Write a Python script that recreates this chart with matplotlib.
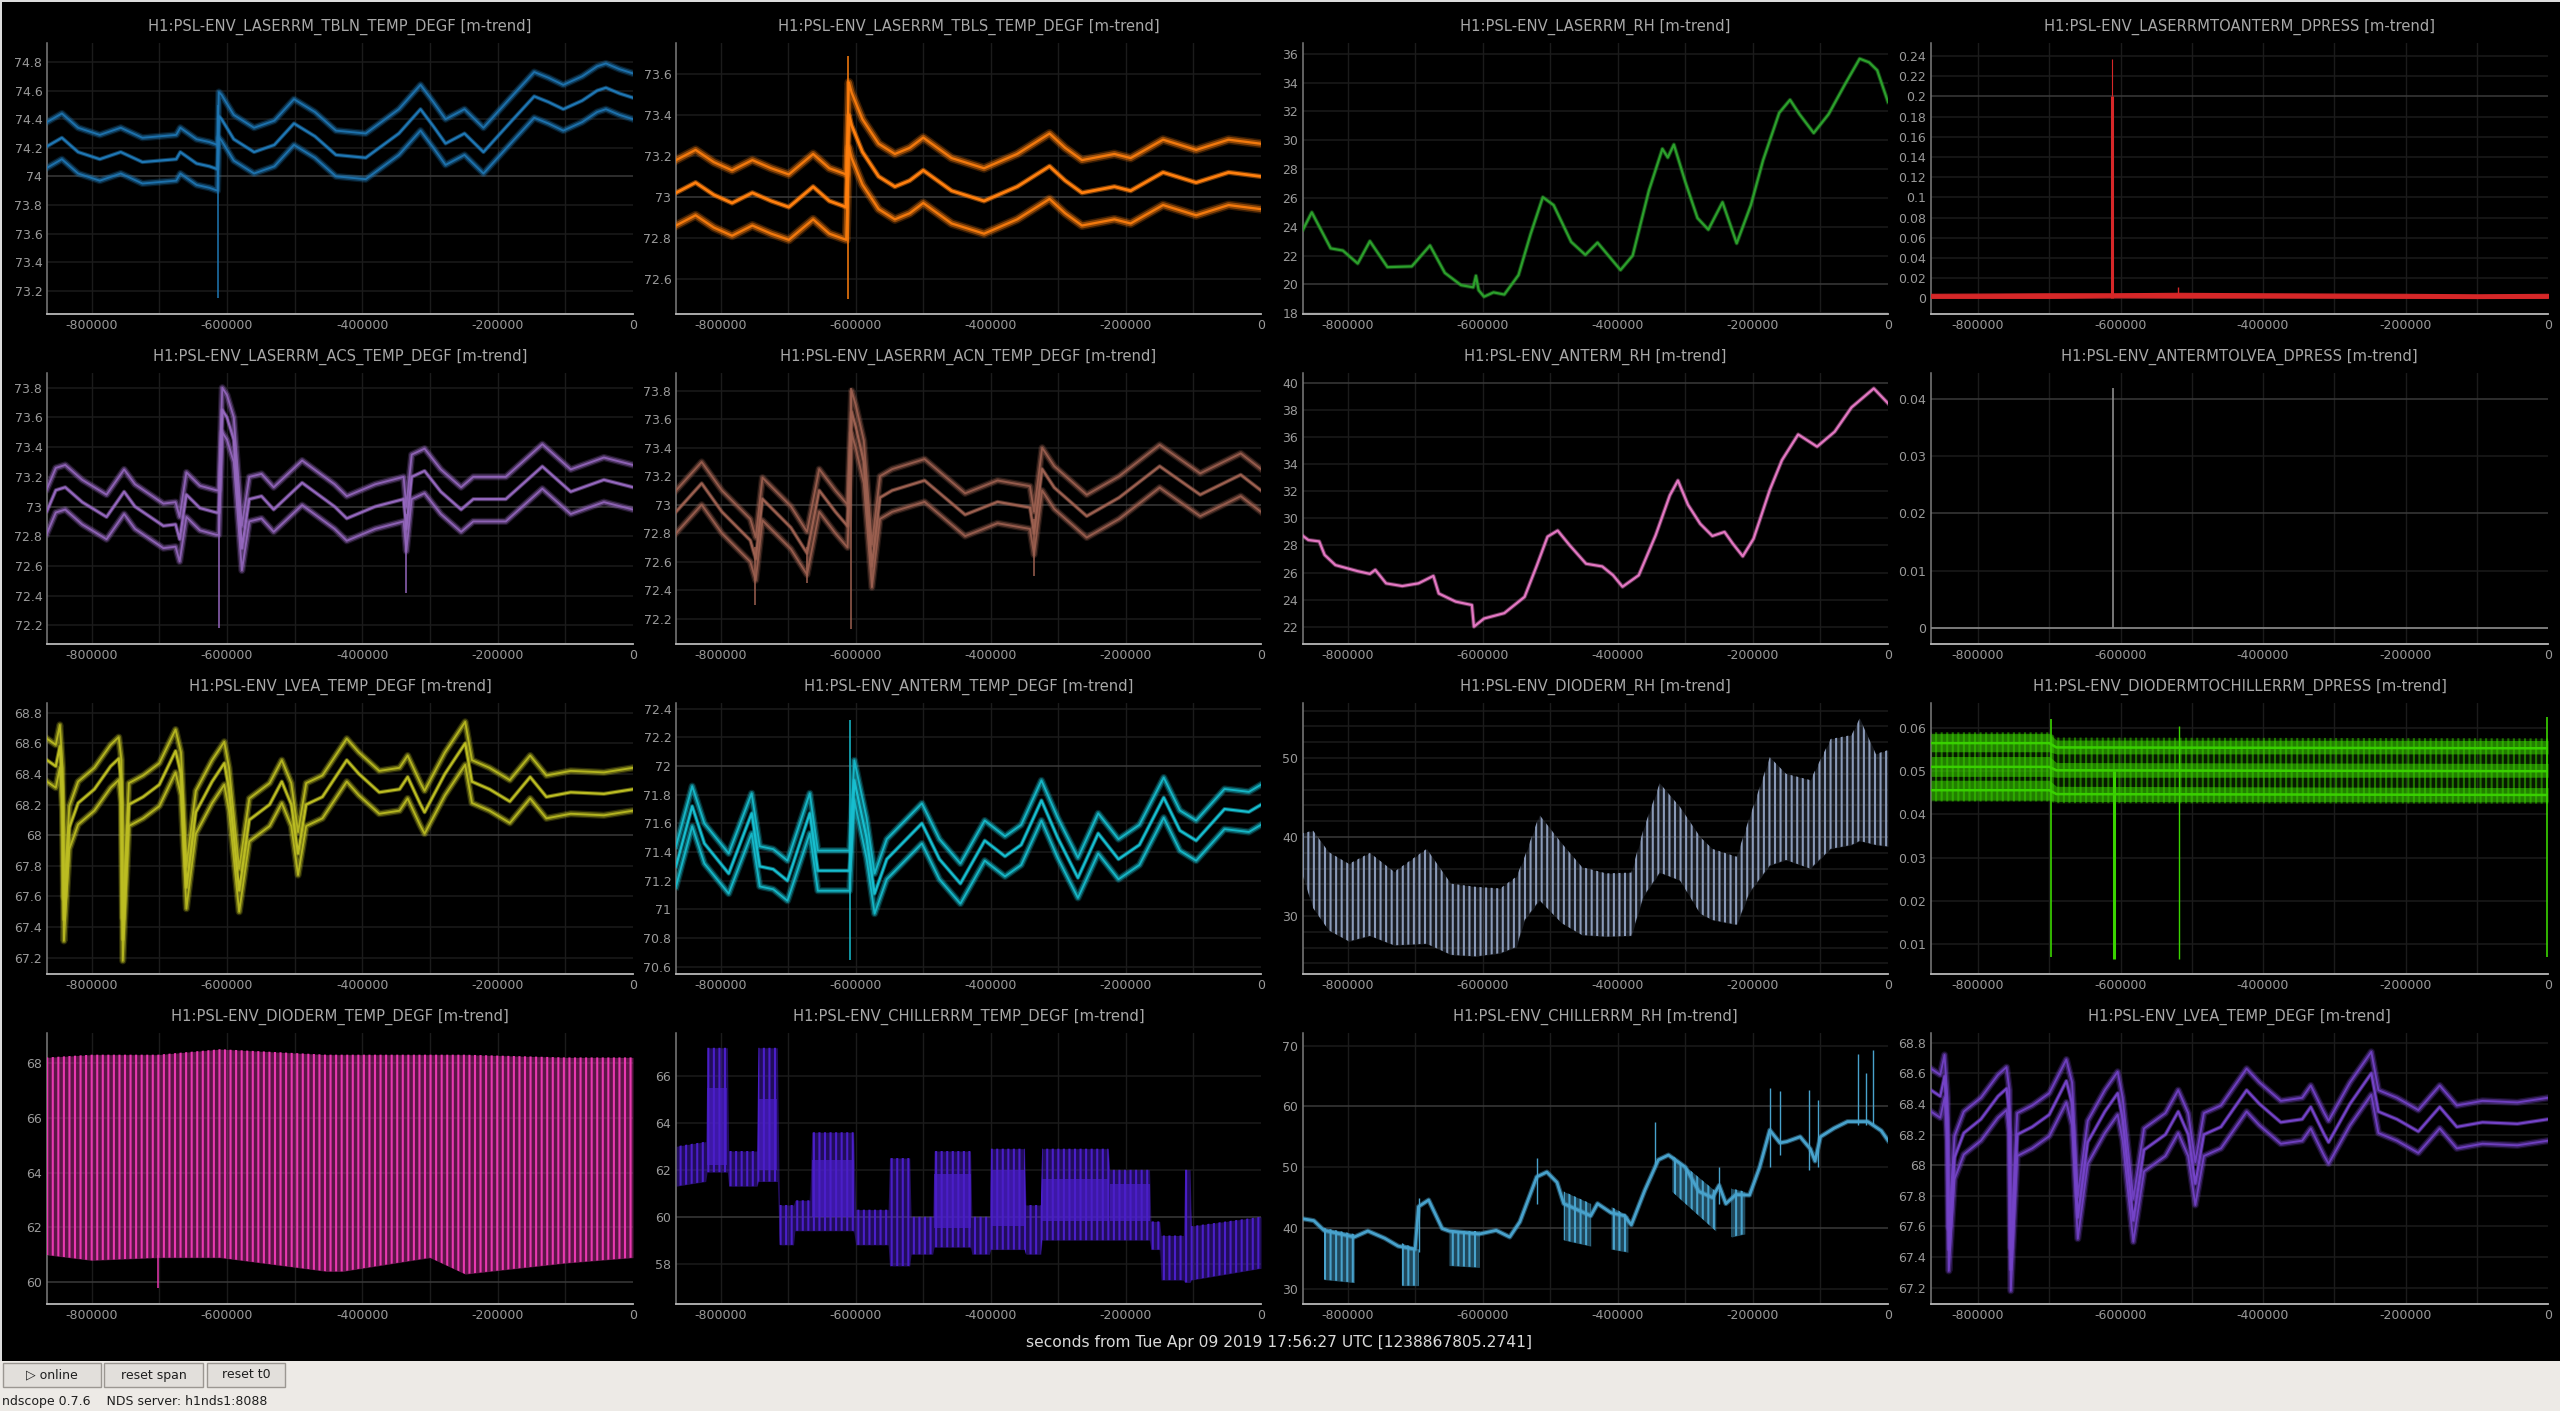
import numpy as np
import matplotlib
matplotlib.use("Agg")
import matplotlib.pyplot as plt
from matplotlib.patches import Rectangle
from matplotlib.ticker import FuncFormatter, FixedLocator
from matplotlib.colors import to_rgba

plt.rcParams['font.family'] = ['DejaVu Sans']
plt.rcParams['axes.unicode_minus'] = False
plt.rcParams['hatch.linewidth'] = 1.5

# ------------------------------------------------------------------ data
XLIM = [-866000, 0]
XTICKS = [-800000, -600000, -400000, -200000, 0]
XGRID = [-800000, -700000, -600000, -500000, -400000, -300000, -200000, -100000]
XLABEL = "seconds from Tue Apr 09 2019 17:56:27 UTC [1238867805.2741]"

TITLES = [
    "H1:PSL-ENV_LASERRM_TBLN_TEMP_DEGF [m-trend]",
    "H1:PSL-ENV_LASERRM_TBLS_TEMP_DEGF [m-trend]",
    "H1:PSL-ENV_LASERRM_RH [m-trend]",
    "H1:PSL-ENV_LASERRMTOANTERM_DPRESS [m-trend]",
    "H1:PSL-ENV_LASERRM_ACS_TEMP_DEGF [m-trend]",
    "H1:PSL-ENV_LASERRM_ACN_TEMP_DEGF [m-trend]",
    "H1:PSL-ENV_ANTERM_RH [m-trend]",
    "H1:PSL-ENV_ANTERMTOLVEA_DPRESS [m-trend]",
    "H1:PSL-ENV_LVEA_TEMP_DEGF [m-trend]",
    "H1:PSL-ENV_ANTERM_TEMP_DEGF [m-trend]",
    "H1:PSL-ENV_DIODERM_RH [m-trend]",
    "H1:PSL-ENV_DIODERMTOCHILLERRM_DPRESS [m-trend]",
    "H1:PSL-ENV_DIODERM_TEMP_DEGF [m-trend]",
    "H1:PSL-ENV_CHILLERRM_TEMP_DEGF [m-trend]",
    "H1:PSL-ENV_CHILLERRM_RH [m-trend]",
    "H1:PSL-ENV_LVEA_TEMP_DEGF [m-trend]",
]
COLORS = ['#1f77b4', '#ff7f0e', '#2ca02c', '#d62728',
          '#9467bd', '#9c6050', '#e377c2', '#8c8c8c',
          '#bcbd22', '#17becf', '#8a9ab8', '#3ad400',
          '#e838b0', '#4a1ec8', '#48a2cc', '#7443c8']
YLIMS = [(73.037, 74.933), (72.427, 73.753), (17.95, 36.74), (-0.0155, 0.2529),
         (72.075, 73.899), (72.023, 73.924), (20.72, 40.74), (-0.00273, 0.04446),
         (67.094, 68.863), (70.549, 72.440), (22.67, 56.95), (0.00307, 0.06578),
         (59.21, 69.09), (56.28, 67.83), (27.48, 72.08), (67.094, 68.863)]
YTICKS = [
    [73.2, 73.4, 73.6, 73.8, 74.0, 74.2, 74.4, 74.6, 74.8],
    [72.6, 72.8, 73.0, 73.2, 73.4, 73.6],
    [18, 20, 22, 24, 26, 28, 30, 32, 34, 36],
    [0, 0.02, 0.04, 0.06, 0.08, 0.1, 0.12, 0.14, 0.16, 0.18, 0.2, 0.22, 0.24],
    [72.2, 72.4, 72.6, 72.8, 73.0, 73.2, 73.4, 73.6, 73.8],
    [72.2, 72.4, 72.6, 72.8, 73.0, 73.2, 73.4, 73.6, 73.8],
    [22, 24, 26, 28, 30, 32, 34, 36, 38, 40],
    [0, 0.01, 0.02, 0.03, 0.04],
    [67.2, 67.4, 67.6, 67.8, 68.0, 68.2, 68.4, 68.6, 68.8],
    [70.6, 70.8, 71.0, 71.2, 71.4, 71.6, 71.8, 72.0, 72.2, 72.4],
    [30, 40, 50],
    [0.01, 0.02, 0.03, 0.04, 0.05, 0.06],
    [60, 62, 64, 66, 68],
    [58, 60, 62, 64, 66],
    [30, 40, 50, 60, 70],
    [67.2, 67.4, 67.6, 67.8, 68.0, 68.2, 68.4, 68.6, 68.8],
]
P11_YGRID = [24, 26, 28, 30, 32, 34, 36, 38, 40, 42, 44, 46, 48, 50, 52, 54, 56]
BRIGHT = [[74], [73], [20], [0.2], [73], [73], [40], [0.02, 0.04], [68], [72],
          [40], [], [60], [60], [40, 60], [68]]

# panel 1: LASERRM_TBLN (mean of trend, band half widths)
P1_X = [-866, -844, -820, -788, -757, -725, -700, -675, -669, -645,
        -626, -614, -612, -608, -590, -560, -530, -501, -470, -439,
        -395, -346, -314, -295, -277, -249, -221, -200, -177, -146,
        -125, -103, -75, -53, -40, -20, 0]
P1_MEAN = [74.21, 74.27, 74.17, 74.12, 74.17, 74.10, 74.11, 74.12, 74.17, 74.09,
           74.07, 74.05, 74.42, 74.40, 74.26, 74.17, 74.22, 74.37, 74.28, 74.15,
           74.13, 74.30, 74.47, 74.35, 74.23, 74.30, 74.17, 74.28, 74.40, 74.56,
           74.52, 74.47, 74.53, 74.60, 74.62, 74.58, 74.55]
P1_BAND = (0.17, 0.15)
P1_SPIKE_X, P1_SPIKE_LO, P1_SPIKE_HI = [-613], [73.15], [74.50]

# panel 2: LASERRM_TBLS
P2_X = [-866, -837, -810, -783, -753, -725, -699, -663, -639, -614,
        -610, -606, -590, -566, -542, -520, -500, -458, -410, -361,
        -313, -290, -265, -217, -193, -145, -96, -48, 0]
P2_MEAN = [73.02, 73.07, 73.01, 72.97, 73.02, 72.98, 72.95, 73.05, 72.98, 72.95,
           73.40, 73.35, 73.22, 73.10, 73.05, 73.08, 73.13, 73.03, 72.98, 73.05,
           73.15, 73.08, 73.02, 73.05, 73.03, 73.12, 73.07, 73.12, 73.10]
P2_BAND = (0.16, 0.16)
P2_SPIKE_X, P2_SPIKE_LO, P2_SPIKE_HI = [-612], [72.50], [73.69]

# panel 3: LASERRM_RH
P3_X = [-866, -853, -825, -807, -785, -767, -741, -705, -678, -656,
        -632, -614, -610, -606, -598, -584, -568, -547, -529, -511,
        -495, -469, -448, -430, -396, -378, -354, -334, -326, -317,
        -300, -282, -266, -245, -224, -203, -185, -161, -145, -131,
        -110, -88, -64, -42, -28, -16, 0]
P3_Y = [23.8, 25.0, 22.5, 22.35, 21.45, 23.0, 21.2, 21.25, 22.7, 20.8,
        19.95, 19.8, 20.6, 19.6, 19.15, 19.45, 19.3, 20.65, 23.5, 26.05,
        25.5, 22.95, 22.05, 22.9, 21.0, 22.0, 26.5, 29.4, 28.8, 29.7,
        27.1, 24.6, 23.8, 25.7, 22.85, 25.5, 28.6, 31.9, 32.8, 31.8,
        30.5, 31.8, 33.85, 35.65, 35.4, 34.85, 32.65]

# panel 4: LASERRMTOANTERM_DPRESS
P4_X = [-866, -700, -612, -520, -400, -200, -100, 0]
P4_HI = [0.0045, 0.0050, 0.0050, 0.0055, 0.0050, 0.0045, 0.0040, 0.0045]
P4_LO = [0.0005, 0.0005, 0.0010, 0.0008, 0.0008, 0.0005, 0.0003, 0.0005]
P4_SPIKE_X = [-612, -612, -519]
P4_SPIKE_LO = [0.0, 0.2, 0.003]
P4_SPIKE_HI = [0.2, 0.237, 0.011]
P4_SPIKE_LW = [2.2, 0.8, 1.0]

# panel 5: LASERRM_ACS
P5_X = [-866, -853, -839, -814, -778, -752, -736, -694, -676, -670,
        -660, -640, -616, -612, -607, -600, -590, -578, -567, -549,
        -531, -489, -441, -423, -381, -339, -335, -327, -308, -284,
        -254, -236, -188, -134, -92, -43, 0]
P5_MEAN = [72.97, 73.11, 73.13, 73.03, 72.93, 73.10, 73.00, 72.87, 72.88, 72.78,
           73.08, 72.99, 72.96, 72.96, 73.65, 73.60, 73.45, 72.72, 73.05, 73.07,
           72.98, 73.16, 73.00, 72.92, 73.00, 73.05, 72.85, 73.20, 73.24, 73.10,
           72.98, 73.05, 73.05, 73.27, 73.10, 73.18, 73.13]
P5_BAND = (0.15, 0.15)
P5_SPIKE_X, P5_SPIKE_LO, P5_SPIKE_HI = [-612, -335], [72.18, 72.42], [73.0, 72.95]

# panel 6: LASERRM_ACN
P6_X = [-866, -828, -798, -756, -748, -738, -696, -672, -654, -630,
        -612, -606, -600, -588, -576, -564, -546, -498, -438, -390,
        -342, -336, -324, -306, -258, -210, -150, -90, -30, 0]
P6_MEAN = [72.95, 73.15, 72.95, 72.75, 72.62, 73.04, 72.84, 72.66, 73.10, 72.95,
           72.85, 73.65, 73.55, 73.30, 72.57, 73.05, 73.10, 73.17, 72.93, 73.02,
           72.98, 72.80, 73.25, 73.12, 72.92, 73.05, 73.27, 73.07, 73.21, 73.10]
P6_BAND = (0.15, 0.15)
P6_SPIKE_X = [-749, -672, -607, -336, -576]
P6_SPIKE_LO = [72.30, 72.45, 72.13, 72.50, 72.42]
P6_SPIKE_HI = [72.70, 72.70, 73.82, 72.90, 72.60]

# panel 7: ANTERM_RH
P7_X = [-866, -858, -842, -834, -818, -785, -767, -759, -743, -719,
        -695, -673, -665, -640, -616, -613, -598, -568, -538, -520,
        -504, -489, -471, -447, -423, -407, -393, -369, -344, -323,
        -311, -296, -278, -260, -242, -230, -215, -199, -175, -157,
        -133, -105, -79, -54, -21, 0]
P7_Y = [28.7, 28.4, 28.3, 27.3, 26.55, 26.1, 25.9, 26.2, 25.2, 25.0,
        25.2, 25.75, 24.45, 23.85, 23.6, 22.0, 22.6, 23.0, 24.2, 26.5,
        28.65, 29.1, 28.0, 26.65, 26.45, 25.8, 24.95, 25.8, 28.75, 31.7,
        32.8, 31.0, 29.6, 28.7, 29.0, 28.15, 27.2, 28.5, 32.1, 34.3,
        36.2, 35.3, 36.4, 38.2, 39.6, 38.5]

# panel 8: ANTERMTOLVEA_DPRESS
P8_X = [-866, 0]
P8_Y = [0.0, 0.0]
P8_SPIKE_X, P8_SPIKE_LO, P8_SPIKE_HI = [-610], [0.0], [0.0418]

# panel 9 / 16: LVEA_TEMP
LVEA_X = [-866, -853, -847, -843, -841, -833, -820, -796, -772, -760,
          -756, -754, -745, -724, -700, -676, -668, -660, -646, -622,
          -604, -597, -582, -567, -537, -519, -505, -495, -483, -459,
          -423, -405, -375, -345, -333, -314, -308, -278, -248, -238,
          -212, -182, -152, -128, -92, -43, 0]
LVEA_MEAN = [68.49, 68.45, 68.58, 68.30, 67.45, 68.05, 68.21, 68.30, 68.45, 68.50,
             68.35, 67.32, 68.20, 68.25, 68.33, 68.55, 68.40, 67.66, 68.15, 68.35,
             68.47, 68.30, 67.64, 68.10, 68.20, 68.35, 68.20, 67.88, 68.20, 68.25,
             68.49, 68.40, 68.28, 68.30, 68.38, 68.20, 68.15, 68.40, 68.60, 68.35,
             68.30, 68.22, 68.38, 68.25, 68.28, 68.27, 68.30]
LVEA_BAND = (0.14, 0.14)

# panel 10: ANTERM_TEMP
P10_X = [-866, -842, -824, -788, -754, -742, -722, -701, -668, -656,
         -614, -609, -602, -584, -572, -554, -502, -476, -445, -409,
         -379, -355, -325, -301, -271, -241, -211, -180, -144, -120,
         -96, -54, -18, 0]
P10_MEAN = [71.30, 71.72, 71.46, 71.25, 71.67, 71.30, 71.28, 71.20, 71.67, 71.27,
            71.27, 71.27, 71.90, 71.50, 71.11, 71.35, 71.60, 71.35, 71.18, 71.48,
            71.37, 71.45, 71.76, 71.50, 71.22, 71.53, 71.35, 71.45, 71.78, 71.55,
            71.48, 71.70, 71.68, 71.73]
P10_BAND = (0.14, 0.14)
P10_SPIKE_X, P10_SPIKE_LO, P10_SPIKE_HI = [-608], [70.65], [72.32]

# panel 11: DIODERM_RH (envelope of fast oscillation)
P11_X = [-866, -851, -828, -798, -767, -731, -683, -647, -610, -574,
         -550, -538, -516, -483, -453, -417, -380, -362, -338, -308,
         -278, -260, -224, -205, -175, -151, -115, -85, -54, -42, -18, 0]
P11_HI = [40.5, 40.8, 38.1, 36.6, 38.0, 35.6, 38.5, 34.1, 33.7, 33.5,
          35.0, 37.5, 42.8, 39.2, 36.2, 35.4, 35.5, 41.0, 46.8, 43.8,
          40.0, 38.5, 37.5, 42.5, 50.1, 48.0, 47.2, 52.4, 52.9, 55.0, 50.5, 51.0]
P11_LO = [35.0, 31.0, 28.2, 26.8, 27.5, 26.3, 26.5, 25.1, 24.9, 25.3,
          26.1, 29.5, 32.0, 29.1, 27.6, 27.4, 27.5, 32.5, 35.5, 34.5,
          30.3, 29.5, 28.9, 33.0, 36.4, 37.1, 36.0, 38.5, 39.0, 39.5, 39.0, 38.8]

# panel 12: DIODERMTOCHILLERRM_DPRESS (three noisy bands)
P12_X = [-866, -700, -690, 0]
P12_ENV_HI = [0.0590, 0.0590, 0.0578, 0.0576]
P12_ENV_LO = [0.0430, 0.0430, 0.0426, 0.0425]
P12_UP_HI = [0.0587, 0.0587, 0.0572, 0.0571]
P12_UP_LO = [0.0545, 0.0545, 0.0540, 0.0540]
P12_UP_MID = [0.0565, 0.0565, 0.0555, 0.0553]
P12_MID_HI = [0.0534, 0.0534, 0.0520, 0.0518]
P12_MID_LO = [0.0488, 0.0488, 0.0486, 0.0486]
P12_MID_MID = [0.0510, 0.0510, 0.0502, 0.0500]
P12_LOW_HI = [0.0479, 0.0479, 0.0465, 0.0462]
P12_LOW_LO = [0.0433, 0.0433, 0.0430, 0.0429]
P12_LOW_MID = [0.0456, 0.0456, 0.0447, 0.0445]
P12_SPIKE_X = [-697, -609, -518, -2]
P12_SPIKE_LO = [0.0070, 0.0065, 0.0065, 0.0070]
P12_SPIKE_HI = [0.0620, 0.0500, 0.0605, 0.0625]
P12_SPIKE_LW = [1.2, 2.2, 1.0, 1.2]

# panel 13: DIODERM_TEMP (envelope of fast oscillation)
P13_X = [-866, -800, -702, -610, -453, -429, -300, -248, -100, 0]
P13_HI = [68.2, 68.3, 68.3, 68.5, 68.3, 68.3, 68.3, 68.3, 68.2, 68.2]
P13_LO = [61.0, 60.8, 60.9, 60.9, 60.4, 60.4, 60.9, 60.3, 60.7, 60.9]
P13_SPIKE_X, P13_SPIKE_LO, P13_SPIKE_HI = [-702], [59.8], [61.0]

# panel 14: CHILLERRM_TEMP (envelope + dense blocks)
P14_X = [-866, -822, -820, -790, -788, -746, -744, -716, -713, -692,
         -690, -668, -665, -603, -600, -552, -550, -520, -518, -486,
         -484, -430, -428, -402, -400, -350, -348, -326, -324, -226,
         -224, -165, -163, -150, -148, -115, -113, -105, -103, 0]
P14_HI = [63.0, 63.2, 67.2, 67.2, 62.8, 62.8, 67.2, 67.2, 60.5, 60.5,
          60.7, 60.7, 63.6, 63.6, 60.3, 60.3, 62.5, 62.5, 60.0, 60.0,
          62.8, 62.8, 60.0, 60.0, 62.9, 62.9, 60.5, 60.5, 62.9, 62.9,
          62.0, 62.0, 59.8, 59.8, 59.2, 59.2, 62.0, 62.0, 59.6, 60.0]
P14_LO = [61.3, 61.5, 61.9, 61.9, 61.3, 61.3, 61.5, 61.5, 58.8, 58.8,
          59.4, 59.4, 59.4, 59.4, 58.8, 58.8, 57.9, 57.9, 58.4, 58.4,
          58.7, 58.7, 58.4, 58.4, 58.6, 58.6, 58.4, 58.4, 59.0, 59.0,
          59.0, 59.0, 58.6, 58.6, 57.3, 57.3, 57.2, 57.2, 57.3, 57.8]
P14_BLK_X0 = [-820, -744, -665, -484, -400, -324, -224]
P14_BLK_X1 = [-790, -716, -603, -430, -350, -226, -165]
P14_BLK_LO = [62.2, 62.0, 60.0, 59.5, 59.6, 59.8, 59.8]
P14_BLK_HI = [65.5, 65.0, 62.4, 61.8, 62.0, 61.6, 61.4]

# panel 15: CHILLERRM_RH (line + dense blocks + spikes)
P15_X = [-866, -850, -835, -790, -770, -745, -725, -700, -695, -680,
         -660, -650, -605, -580, -560, -545, -520, -505, -490, -480,
         -440, -430, -410, -390, -380, -360, -340, -325, -300, -280,
         -260, -250, -240, -225, -205, -190, -175, -160, -150, -130,
         -115, -108, -100, -80, -60, -30, -10, 0]
P15_Y = [41.5, 41.2, 39.6, 38.5, 39.5, 38.3, 37.0, 36.5, 43.5, 44.6,
         39.9, 39.5, 39.0, 39.6, 38.5, 41.0, 48.4, 49.2, 47.5, 44.0,
         42.0, 44.0, 42.5, 42.0, 40.5, 46.2, 51.2, 52.0, 50.0, 46.0,
         45.0, 47.0, 44.0, 45.5, 45.4, 50.0, 56.1, 54.0, 54.2, 55.0,
         53.0, 51.0, 55.0, 56.4, 57.5, 57.5, 56.0, 54.4]
P15_BLK_X0 = [-835, -720, -650, -480, -410, -320, -232]
P15_BLK_X1 = [-790, -695, -605, -440, -385, -255, -212]
P15_BLK_LO0 = [31.5, 30.5, 33.8, 38.0, 36.5, 46.0, 38.5]
P15_BLK_LO1 = [31.0, 30.5, 33.5, 37.0, 36.0, 39.5, 39.0]
P15_BLK_HI0 = [40.0, 37.5, 39.5, 46.0, 43.5, 52.0, 46.5]
P15_BLK_HI1 = [39.0, 36.5, 39.5, 44.0, 42.0, 46.0, 46.0]
P15_SPIKE_X = [-695, -520, -345, -250, -175, -160, -117, -104, -45, -33, -22]
P15_SPIKE_LO = [36.0, 44.0, 50.0, 44.0, 50.0, 52.0, 49.5, 50.0, 57.0, 57.0, 57.0]
P15_SPIKE_HI = [45.0, 51.5, 57.5, 50.0, 63.1, 62.5, 62.7, 61.0, 68.6, 65.5, 69.3]

# ------------------------------------------------------------------ layout
W, H = 2560, 1411
COL_L = [47, 676, 1303, 1931]
COL_R = [633, 1261, 1888, 2548]
ROW_T = [43, 373, 703, 1033]
AX_H = 271

TITLE_C = '#a8a8a8'
TICK_C = '#9a9a9a'
GRID_C = '#1b1b1b'
GRID_B = '#3a3a3a'

fig = plt.figure(figsize=(W / 100, H / 100), dpi=100, facecolor='black')


def ks(a):
    return np.asarray(a, float) * 1000.0


def yfmt(v, pos=None):
    s = f"{v:.6f}".rstrip('0').rstrip('.')
    if s in ('-0', ''):
        s = '0'
    return s


def xfmt(v, pos=None):
    return f"{int(round(v))}"


def make_ax(i):
    r, c = divmod(i, 4)
    left, right, top = COL_L[c], COL_R[c], ROW_T[r]
    ax = fig.add_axes([left / W, 1 - (top + AX_H) / H, (right - left) / W, AX_H / H])
    ax.set_facecolor('black')
    ax.set_xlim(*XLIM)
    ax.set_ylim(*YLIMS[i])
    for s in ('top', 'right'):
        ax.spines[s].set_visible(False)
    ax.spines['left'].set_color('#7c7c7c')
    ax.spines['bottom'].set_color('#b8b8b8')
    ax.spines['left'].set_linewidth(1.1)
    ax.spines['bottom'].set_linewidth(1.3)
    ax.xaxis.set_major_locator(FixedLocator(XTICKS))
    ax.xaxis.set_major_formatter(FuncFormatter(xfmt))
    ax.yaxis.set_major_locator(FixedLocator(YTICKS[i]))
    ax.yaxis.set_major_formatter(FuncFormatter(yfmt))
    ax.tick_params(length=0, labelsize=9.0, colors=TICK_C, pad=3.4)
    for g in XGRID:
        ax.axvline(g, color=GRID_C, lw=1.0, zorder=0)
    ygrid = P11_YGRID if i == 10 else YTICKS[i]
    for g in ygrid:
        ax.axhline(g, color=GRID_B if g in BRIGHT[i] else GRID_C, lw=1.1, zorder=0)
    ax.text(0.5, 1 + 16 / AX_H, TITLES[i], transform=ax.transAxes, ha='center',
            va='center', color=TITLE_C, fontsize=10.6)
    return ax


def fuzzy(ax, x, y, color, widths, alphas, z):
    for lw, a in zip(widths, alphas):
        ax.plot(x, y, color=color, lw=lw, alpha=a, zorder=z, solid_joinstyle='round')


def bands(ax, x, mean, band, color, scale=1.0):
    x = ks(x)
    m = np.asarray(mean, float)
    ow = [5.2 * scale, 3.4 * scale, 1.3 * scale]
    oa = [0.22, 0.45, 0.9]
    fuzzy(ax, x, m + band[0], color, ow, oa, 3)
    fuzzy(ax, x, m - band[1], color, ow, oa, 3)
    fuzzy(ax, x, m, color, [3.0 * scale, 1.6 * scale], [0.45, 1.0], 4)


def spikes(ax, x, lo, hi, color, lw=1.1):
    ax.vlines(ks(x), lo, hi, colors=color, lw=lw, zorder=5)


def hatch_env(ax, x, lo, hi, color, under=0.0, hatch_alpha=1.0, z=3):
    x = ks(x)
    if under > 0:
        ax.fill_between(x, lo, hi, color=color, alpha=under, lw=0, zorder=z - 1)
    ax.fill_between(x, lo, hi, facecolor='none', edgecolor=to_rgba(color, hatch_alpha),
                    hatch='|||', lw=0, zorder=z)


axes = [make_ax(i) for i in range(16)]

# 1
bands(axes[0], P1_X, P1_MEAN, P1_BAND, COLORS[0])
spikes(axes[0], P1_SPIKE_X, P1_SPIKE_LO, P1_SPIKE_HI, COLORS[0])
# 2
bands(axes[1], P2_X, P2_MEAN, P2_BAND, COLORS[1], scale=1.25)
spikes(axes[1], P2_SPIKE_X, P2_SPIKE_LO, P2_SPIKE_HI, COLORS[1])
# 3
fuzzy(axes[2], ks(P3_X), P3_Y, COLORS[2], [3.0, 1.6], [0.4, 1.0], 3)
# 4
axes[3].fill_between(ks(P4_X), P4_LO, P4_HI, color=COLORS[3], lw=0.8, zorder=3)
for sx, lo, hi, lw in zip(P4_SPIKE_X, P4_SPIKE_LO, P4_SPIKE_HI, P4_SPIKE_LW):
    spikes(axes[3], [sx], [lo], [hi], COLORS[3], lw=lw)
# 5
bands(axes[4], P5_X, P5_MEAN, P5_BAND, COLORS[4])
spikes(axes[4], P5_SPIKE_X, P5_SPIKE_LO, P5_SPIKE_HI, COLORS[4])
# 6
bands(axes[5], P6_X, P6_MEAN, P6_BAND, COLORS[5])
spikes(axes[5], P6_SPIKE_X, P6_SPIKE_LO, P6_SPIKE_HI, COLORS[5])
# 7
fuzzy(axes[6], ks(P7_X), P7_Y, COLORS[6], [3.0, 1.6], [0.4, 1.0], 3)
# 8
axes[7].plot(ks(P8_X), P8_Y, color=COLORS[7], lw=1.2, zorder=3)
spikes(axes[7], P8_SPIKE_X, P8_SPIKE_LO, P8_SPIKE_HI, COLORS[7], lw=1.2)
# 9
bands(axes[8], LVEA_X, LVEA_MEAN, LVEA_BAND, COLORS[8])
# 10
bands(axes[9], P10_X, P10_MEAN, P10_BAND, COLORS[9])
spikes(axes[9], P10_SPIKE_X, P10_SPIKE_LO, P10_SPIKE_HI, COLORS[9])
# 11
hatch_env(axes[10], P11_X, P11_LO, P11_HI, COLORS[10], under=0.18)
# 12
hatch_env(axes[11], P12_X, P12_ENV_LO, P12_ENV_HI, COLORS[11], under=0.12, hatch_alpha=0.5, z=2)
for lo, hi, mid in [(P12_UP_LO, P12_UP_HI, P12_UP_MID),
                    (P12_MID_LO, P12_MID_HI, P12_MID_MID),
                    (P12_LOW_LO, P12_LOW_HI, P12_LOW_MID)]:
    axes[11].fill_between(ks(P12_X), lo, hi, color=COLORS[11], alpha=0.55, lw=0, zorder=3)
    axes[11].plot(ks(P12_X), mid, color=COLORS[11], lw=1.8, alpha=0.95, zorder=4)
for sx, lo, hi, lw in zip(P12_SPIKE_X, P12_SPIKE_LO, P12_SPIKE_HI, P12_SPIKE_LW):
    spikes(axes[11], [sx], [lo], [hi], COLORS[11], lw=lw)
# 13
hatch_env(axes[12], P13_X, P13_LO, P13_HI, COLORS[12], under=0.4)
spikes(axes[12], P13_SPIKE_X, P13_SPIKE_LO, P13_SPIKE_HI, COLORS[12])
# 14
hatch_env(axes[13], P14_X, P14_LO, P14_HI, COLORS[13], under=0.45)
for x0, x1, lo, hi in zip(P14_BLK_X0, P14_BLK_X1, P14_BLK_LO, P14_BLK_HI):
    axes[13].fill_between(ks([x0, x1]), [lo, lo], [hi, hi], color=COLORS[13], alpha=0.7,
                          lw=0, zorder=4)
# 15
for x0, x1, l0, l1, h0, h1 in zip(P15_BLK_X0, P15_BLK_X1, P15_BLK_LO0, P15_BLK_LO1,
                                  P15_BLK_HI0, P15_BLK_HI1):
    hatch_env(axes[14], [x0, x1], [l0, l1], [h0, h1], COLORS[14], under=0.45)
fuzzy(axes[14], ks(P15_X), P15_Y, COLORS[14], [3.6, 2.0], [0.45, 1.0], 4)
spikes(axes[14], P15_SPIKE_X, P15_SPIKE_LO, P15_SPIKE_HI, COLORS[14], lw=1.0)
# 16
bands(axes[15], LVEA_X, LVEA_MEAN, LVEA_BAND, COLORS[15])

# ------------------------------------------------------------------ frame / gui
fig.text(1279 / W, 1 - 1343 / H, XLABEL, ha='center', va='center', color='#dadada',
         fontsize=11.2)


def prect(x0, y0, x1, y1, **kw):
    fig.add_artist(Rectangle((x0 / W, 1 - y1 / H), (x1 - x0) / W, (y1 - y0) / H,
                             transform=fig.transFigure, **kw))


prect(0, 0, W, 2, facecolor='#dcdcdc', edgecolor='none')
prect(0, 0, 2, 1361, facecolor='#dcdcdc', edgecolor='none')
prect(0, 1361, W, H, facecolor='#edeae6', edgecolor='none')
BUTTONS = [("\u25b7 online", 3, 101), ("reset span", 104, 203), ("reset t0", 207, 285)]
for label, bx0, bx1 in BUTTONS:
    prect(bx0, 1363, bx1, 1387, facecolor='#e2dfdb', edgecolor='#9b9792', lw=1.0)
    fig.text((bx0 + bx1) / 2 / W, 1 - 1375 / H, label, ha='center', va='center',
             color='#1e1e1e', fontsize=9.0)
fig.text(2 / W, 1 - 1401 / H, "ndscope 0.7.6    NDS server: h1nds1:8088", ha='left',
         va='center', color='#1e1e1e', fontsize=9.0)

fig.savefig("out.png", dpi=100, facecolor='black')
